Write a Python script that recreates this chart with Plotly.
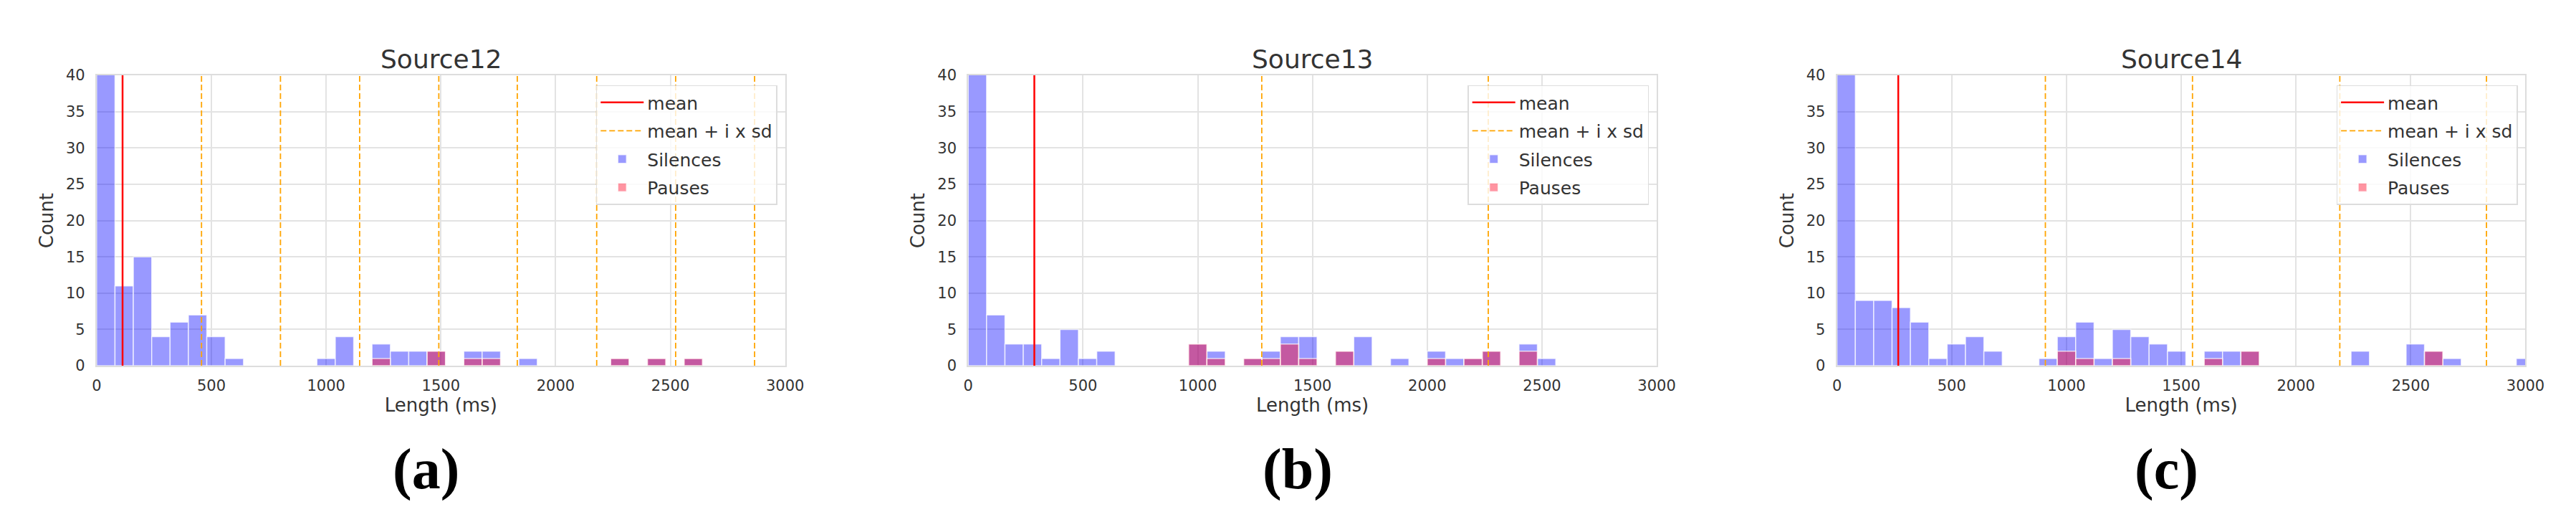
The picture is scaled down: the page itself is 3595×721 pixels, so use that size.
import plotly.graph_objects as go

# histogram bins (left edge, ms) -> counts; bin width 80 ms
# first bin of every panel is cut off by the 0-40 y range
s12_silence_bins = [0, 80, 160, 240, 320, 400, 480, 560, 960, 1040, 1200, 1280, 1360, 1440, 1600, 1680, 1840, 2240, 2400, 2560]
s12_silence_counts = [48, 11, 15, 4, 6, 7, 4, 1, 1, 4, 3, 2, 2, 2, 2, 2, 1, 1, 1, 1]
s12_pause_bins = [1200, 1440, 1600, 1680, 2240, 2400, 2560]
s12_pause_counts = [1, 2, 1, 1, 1, 1, 1]
s12_mean = 113
s12_sd_lines = [457, 801, 1146, 1491, 1833, 2179, 2523, 2867]

s13_silence_bins = [0, 80, 160, 240, 320, 400, 480, 560, 960, 1040, 1200, 1280, 1360, 1440, 1600, 1680, 1840, 2000, 2080, 2160, 2240, 2400, 2480]
s13_silence_counts = [50, 7, 3, 3, 1, 5, 1, 2, 3, 2, 1, 2, 4, 4, 2, 4, 1, 2, 1, 1, 2, 3, 1]
s13_pause_bins = [960, 1040, 1200, 1280, 1360, 1440, 1600, 2000, 2160, 2240, 2400]
s13_pause_counts = [3, 1, 1, 1, 3, 1, 2, 1, 1, 2, 2]
s13_mean = 288
s13_sd_lines = [1279, 2266]

s14_silence_bins = [0, 80, 160, 240, 320, 400, 480, 560, 640, 880, 960, 1040, 1120, 1200, 1280, 1360, 1440, 1600, 1680, 1760, 2240, 2480, 2560, 2640, 2960]
s14_silence_counts = [55, 9, 9, 8, 6, 1, 3, 4, 2, 1, 4, 6, 1, 5, 4, 3, 2, 2, 2, 2, 2, 3, 2, 1, 1]
s14_pause_bins = [960, 1040, 1200, 1600, 1760, 2560]
s14_pause_counts = [2, 1, 1, 1, 2, 2]
s14_mean = 267
s14_sd_lines = [908, 1549, 2191, 2830]

titles = ["Source12", "Source13", "Source14"]
labels = ["(a)", "(b)", "(c)"]

BIN_W = 80
Y_MAX = 40
W, H = 3595, 721

panels = [
    (s12_silence_bins, s12_silence_counts, s12_pause_bins, s12_pause_counts, s12_mean, s12_sd_lines),
    (s13_silence_bins, s13_silence_counts, s13_pause_bins, s13_pause_counts, s13_mean, s13_sd_lines),
    (s14_silence_bins, s14_silence_counts, s14_pause_bins, s14_pause_counts, s14_mean, s14_sd_lines),
]

# pixel layout of the three axes boxes
x_px = [(121, 1091), (1349, 2319), (2573, 3543)]
y_dom = [1 - 507 / H, 1 - 88 / H]

FONT = "DejaVu Sans"
TXT = "#333333"
GRID = "#e3e3e3"

fig = go.Figure()

for i, (sb, sc, pb, pc, mean, sds) in enumerate(panels):
    n = "" if i == 0 else str(i + 1)
    xa, ya = "x" + n, "y" + n
    leg = "legend" + n

    fig.add_trace(go.Scatter(x=[mean, mean], y=[0, Y_MAX], mode="lines", name="mean",
                             line=dict(color="red", width=2.5), xaxis=xa, yaxis=ya,
                             legend=leg, legendgroup="m" + n))
    sx, sy = [], []
    for v in sds:
        sx += [v, v, None]
        sy += [0, Y_MAX, None]
    fig.add_trace(go.Scatter(x=sx, y=sy, mode="lines", name="mean + i x sd",
                             line=dict(color="orange", width=1.8, dash="8px,4px"),
                             xaxis=xa, yaxis=ya, legend=leg, legendgroup="sd" + n))
    fig.add_trace(go.Bar(x=sb, y=sc, width=BIN_W, offset=0, name="Silences",
                         marker=dict(color="rgba(0,0,255,0.4)",
                                     line=dict(color="rgba(255,255,255,0.7)", width=1.5)),
                         xaxis=xa, yaxis=ya, legend=leg, legendgroup="s" + n))
    fig.add_trace(go.Bar(x=pb, y=pc, width=BIN_W, offset=0, name="Pauses",
                         marker=dict(color="rgba(255,0,30,0.42)",
                                     line=dict(color="rgba(255,255,255,0.7)", width=1.5)),
                         xaxis=xa, yaxis=ya, legend=leg, legendgroup="p" + n))

    x0, x1 = x_px[i]
    axis_common = dict(showgrid=True, gridcolor=GRID, gridwidth=2, zeroline=False,
                       showline=True, mirror=True, linecolor="#dddddd", linewidth=2,
                       ticks="", tickfont=dict(family=FONT, size=21, color=TXT))
    fig.layout["xaxis" + n] = dict(axis_common, domain=[x0 / W, x1 / W], anchor=ya,
                                   range=[0, 3000], dtick=500, ticklabelstandoff=8,
                                   title=dict(text="Length (ms)", standoff=6,
                                              font=dict(family=FONT, size=26, color=TXT)))
    fig.layout["yaxis" + n] = dict(axis_common, domain=y_dom, anchor=xa,
                                   range=[0, Y_MAX], dtick=5, ticklabelstandoff=10,
                                   title=dict(text="Count", standoff=10,
                                              font=dict(family=FONT, size=26, color=TXT)))
    fig.layout[leg] = dict(x=(x1 - 11) / W, y=1 - 102 / H, xanchor="right", yanchor="top",
                           bgcolor="rgba(255,255,255,0.8)", bordercolor="#dddddd", borderwidth=1.5,
                           font=dict(family=FONT, size=25, color=TXT), itemwidth=60,
                           traceorder="grouped", tracegroupgap=4)

    fig.add_annotation(text=titles[i], x=(x0 + x1) / 2 / W, y=y_dom[1], xref="paper", yref="paper",
                       xanchor="center", yanchor="bottom", showarrow=False,
                       font=dict(family=FONT, size=36, color=TXT))
    fig.add_annotation(text="<b>" + labels[i] + "</b>", x=((x0 + x1) / 2 - 21) / W, y=1 - 656 / H,
                       xref="paper", yref="paper", xanchor="center", yanchor="middle", showarrow=False,
                       font=dict(family="Liberation Serif", size=80, color="black"))

fig.update_layout(width=W, height=H, barmode="overlay", plot_bgcolor="white", paper_bgcolor="white",
                  margin=dict(l=0, r=0, t=0, b=0), showlegend=True)

fig.write_html("out.html")
